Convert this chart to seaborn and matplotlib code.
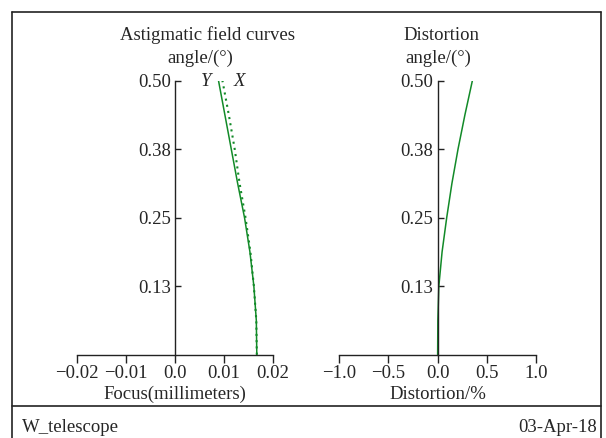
import matplotlib
matplotlib.use("Agg")
import matplotlib.pyplot as plt
import seaborn as sns
import pandas as pd
from matplotlib.lines import Line2D

sns.set_theme(style="white")
plt.rcParams['font.family'] = ['Liberation Serif', 'DejaVu Serif']
plt.rcParams['mathtext.fontset'] = 'stix'

# ---- data ----
angles = [0.0, 0.0625, 0.125, 0.1875, 0.25, 0.3125, 0.375, 0.4375, 0.5]
focus_y = [0.0167, 0.0166, 0.0161, 0.0153, 0.0142, 0.0128, 0.0115, 0.0102, 0.0089]
focus_x = [0.0167, 0.0166, 0.0161, 0.0154, 0.0144, 0.0132, 0.0122, 0.0110, 0.0097]
distortion = [0.0, 0.002, 0.012, 0.045, 0.092, 0.145, 0.207, 0.277, 0.353]

ytick_vals = [0.125, 0.25, 0.375, 0.5]
ytick_labels = ["0.13", "0.25", "0.38", "0.50"]
xticks_focus = [-0.02, -0.01, 0.0, 0.01, 0.02]
xlabels_focus = ["\u22120.02", "\u22120.01", "0.0", "0.01", "0.02"]
xticks_dist = [-1.0, -0.5, 0.0, 0.5, 1.0]
xlabels_dist = ["\u22121.0", "\u22120.5", "0.0", "0.5", "1.0"]

green = '#128a28'
W, H = 606, 438
fig = plt.figure(figsize=(W / 100, H / 100), dpi=100)

ax1 = fig.add_axes([76.7 / W, 1 - 354.7 / H, 196.3 / W, 274 / H])
ax2 = fig.add_axes([339.3 / W, 1 - 354.7 / H, 196.7 / W, 274 / H])

df_f = pd.DataFrame({'angle': angles, 'Y': focus_y, 'X': focus_x})
sns.lineplot(data=df_f, x='Y', y='angle', orient='y', estimator=None, ax=ax1,
             color=green, lw=1.1)
sns.lineplot(data=df_f, x='X', y='angle', orient='y', estimator=None, ax=ax1,
             color=green, lw=1.5, linestyle=(0, (1.0, 2.0)))

df_d = pd.DataFrame({'angle': angles, 'dist': distortion})
sns.lineplot(data=df_d, x='dist', y='angle', orient='y', estimator=None, ax=ax2,
             color=green, lw=1.1)

fs = 13.5
for ax, xt, xl, lim, xlabel in [
        (ax1, xticks_focus, xlabels_focus, (-0.02, 0.02), 'Focus(millimeters)'),
        (ax2, xticks_dist, xlabels_dist, (-1.0, 1.0), 'Distortion/%')]:
    ax.set_xlim(*lim)
    ax.set_ylim(0, 0.5)
    ax.set_facecolor('none')
    ax.spines['top'].set_visible(False)
    ax.spines['right'].set_visible(False)
    ax.spines['left'].set_position(('data', 0))
    for s in ['left', 'bottom']:
        ax.spines[s].set_color('#222222')
        ax.spines[s].set_linewidth(1.0)
    ax.set_xticks(xt)
    ax.set_xticklabels(xl, fontsize=fs)
    ax.set_yticks(ytick_vals)
    ax.set_yticklabels(ytick_labels, fontsize=fs)
    ax.tick_params(axis='x', direction='out', length=6, width=1.0, color='#222222', pad=1.5, bottom=True)
    ax.tick_params(axis='y', direction='in', length=4, width=1.0, color='#222222', pad=3, left=True)
    ax.set_xlabel(xlabel, fontsize=fs, labelpad=2.5)
    ax.set_ylabel('')
    ax.grid(False)

fig.text(208 / W, 1 - 35 / H, 'Astigmatic field curves', ha='center', va='center', fontsize=fs)
fig.text(200 / W, 1 - 58 / H, 'angle/(°)', ha='center', va='center', fontsize=fs)
fig.text(441 / W, 1 - 35 / H, 'Distortion', ha='center', va='center', fontsize=fs)
fig.text(438 / W, 1 - 58 / H, 'angle/(°)', ha='center', va='center', fontsize=fs)

fig.text(206 / W, 1 - 81 / H, 'Y', ha='center', va='center', fontsize=fs, style='italic')
fig.text(239 / W, 1 - 81 / H, 'X', ha='center', va='center', fontsize=fs, style='italic')

fig.text(22 / W, 1 - 427 / H, 'W_telescope', ha='left', va='center', fontsize=fs)
fig.text(597 / W, 1 - 427 / H, '03-Apr-18', ha='right', va='center', fontsize=fs)

bc = '#222222'
fig.add_artist(Line2D([11.5 / W, 11.5 / W], [0, 1 - 11.5 / H], color=bc, lw=1.2))
fig.add_artist(Line2D([601 / W, 601 / W], [0, 1 - 11.5 / H], color=bc, lw=1.2))
fig.add_artist(Line2D([11.5 / W, 601 / W], [1 - 11.5 / H, 1 - 11.5 / H], color=bc, lw=1.2))
fig.add_artist(Line2D([11.5 / W, 601 / W], [1 - 406 / H, 1 - 406 / H], color=bc, lw=1.2))

fig.savefig('out.png', dpi=100)
